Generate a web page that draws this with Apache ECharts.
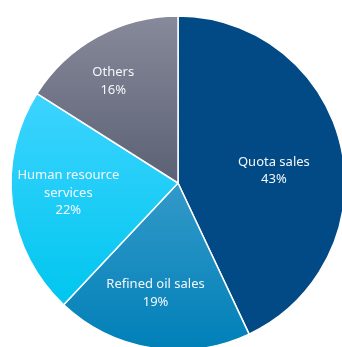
<!DOCTYPE html>
<html>
<head>
<meta charset="utf-8">
<script src="https://cdn.jsdelivr.net/npm/echarts@6/dist/echarts.min.js"></script>
<style>html,body{margin:0;padding:0;background:#fff;}#c{width:342px;height:347px;}</style>
</head>
<body>
<div id="c"></div>
<script>
const categories = ['Quota sales', 'Refined oil sales', 'Human resource\nservices', 'Others'];
const shares = [43, 19, 22, 16];
const palette = [
  ['#024a86', '#024a86'],
  ['#3399c9', '#0080b8'],
  ['#3dd4ff', '#00c6ee'],
  ['#868a9a', '#5c6074']
];

const chart = echarts.init(document.getElementById('c'), null, {renderer: 'canvas'});
const grad = (c) => new echarts.graphic.LinearGradient(0, 0, 0, 1, [{offset: 0, color: c[0]}, {offset: 1, color: c[1]}]);
const center = [178, 183];
const R = 167;
// small label nudges (style only) to match the original label placement
const nudge = [[-13, 12], [-5, 0], [1, -4], [-11, -4]];
chart.setOption({
  animation: false,
  series: [
    {
      type: 'pie',
      center: center,
      radius: [0, R],
      startAngle: 90,
      clockwise: true,
      silent: true,
      label: {show: false},
      labelLine: {show: false},
      itemStyle: {borderColor: '#ffffff', borderWidth: 1.5},
      data: categories.map((n, i) => ({name: n, value: shares[i], itemStyle: {color: grad(palette[i])}}))
    },
    {
      type: 'pie',
      center: center,
      radius: [R * 0.3, R],
      startAngle: 90,
      clockwise: true,
      silent: true,
      itemStyle: {color: 'rgba(0,0,0,0)', borderWidth: 0},
      labelLine: {show: false},
      label: {
        show: true,
        position: 'inside',
        color: '#f4f8fc',
        fontFamily: 'Noto Sans',
        fontSize: 13,
        lineHeight: 17.5,
        align: 'center',
        formatter: (p) => p.name + '\n' + p.value + '%'
      },
      data: categories.map((n, i) => ({name: n, value: shares[i], label: {offset: nudge[i]}}))
    }
  ]
});
</script>
</body>
</html>
